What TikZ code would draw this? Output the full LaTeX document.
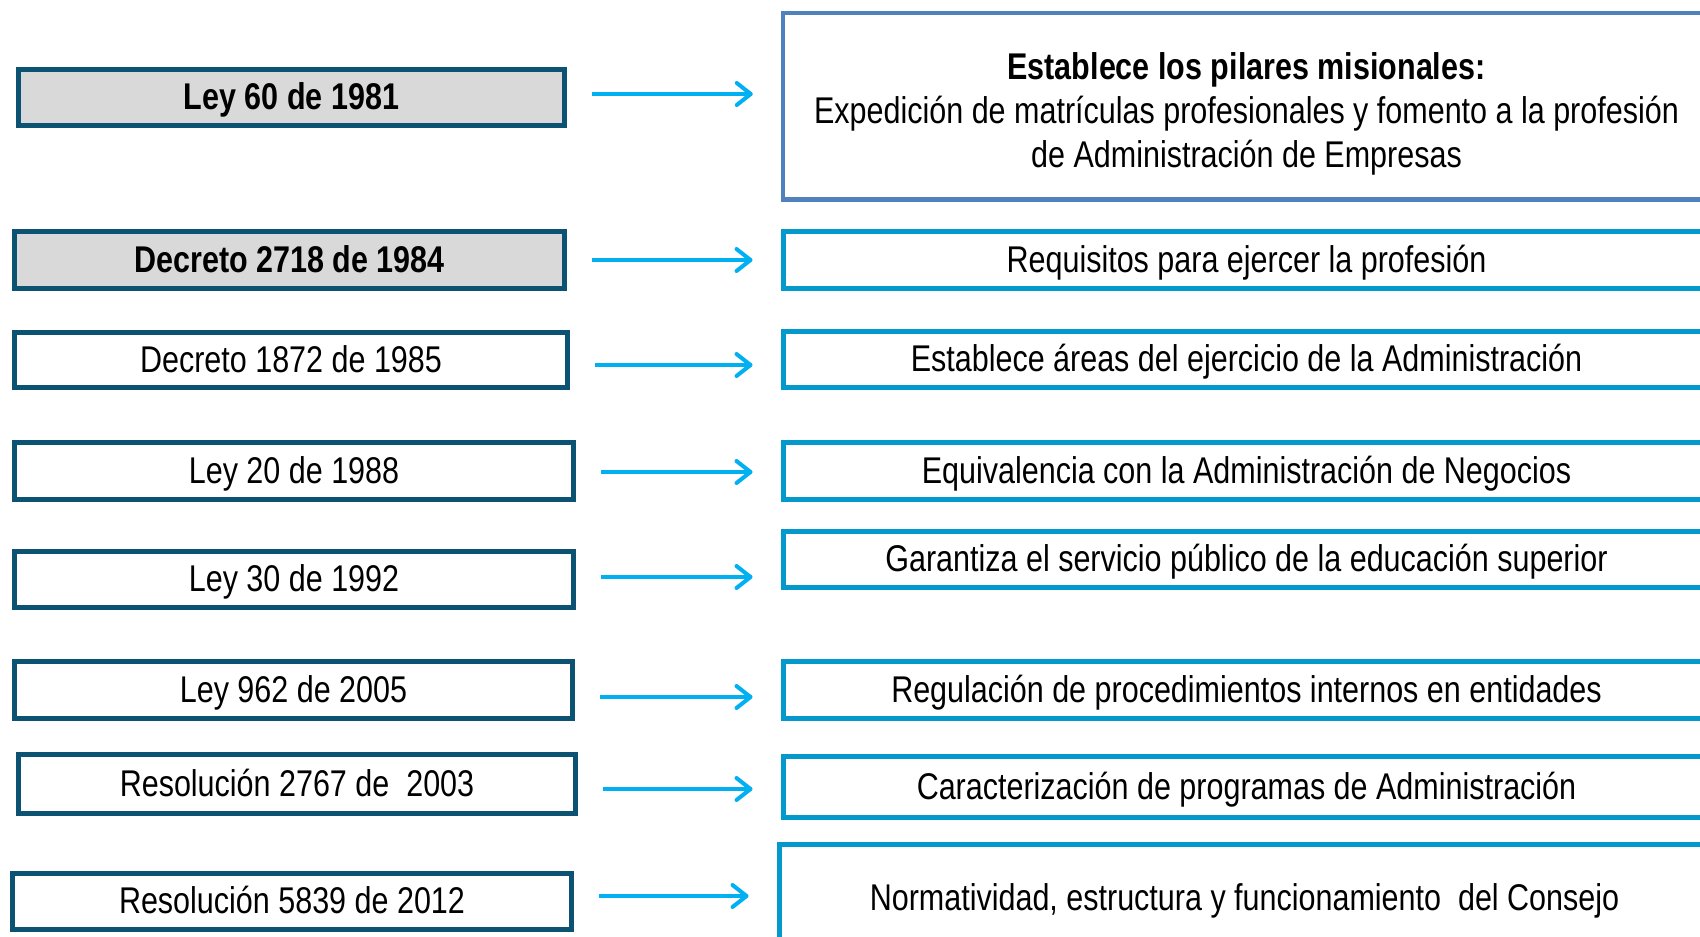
\documentclass[tikz,border=0pt]{standalone}
\usepackage{fontspec}
\setmainfont{Liberation Sans}[FakeStretch=0.82]
\usetikzlibrary{arrows.meta}

\definecolor{leyborde}{RGB}{12,82,114}
\definecolor{leyfondo}{RGB}{217,217,217}
\definecolor{descborde}{RGB}{4,153,204}
\definecolor{pilarborde}{RGB}{79,129,189}
\definecolor{flecha}{RGB}{0,176,240}

\tikzset{
  norma/.style={draw=leyborde, line width=2.5pt, inner sep=0pt,
    text height=16.1pt, text depth=3.9pt,
    font=\fontsize{18.6}{22}\selectfont},
  normaclave/.style={norma, fill=leyfondo,
    font=\fontsize{18.6}{22}\selectfont\bfseries},
  desc/.style={draw=descborde, line width=2.5pt, inner sep=0pt,
    text height=16.1pt, text depth=3.9pt,
    minimum width=463.5pt,
    font=\fontsize{18.6}{22}\selectfont},
  pilar/.style={draw=pilarborde, line width=2.25pt, inner sep=0pt,
    align=center, minimum width=463.5pt,
    font=\fontsize{18.6}{22}\selectfont},
  flechaaz/.style={draw=flecha, line width=2pt,
    -{Straight Barb[length=7pt,width=11pt,round]},
    shorten <=12.5pt, shorten >=14pt}
}

\begin{document}
\begin{tikzpicture}[x=0.5pt,y=-0.5pt]
            \useasboundingbox (0,0) rectangle (1700,936);

            % normas
            \node[normaclave, minimum width=273pt, minimum height=28pt] (ley60) at (291.5,97.5) {Ley 60 de 1981};
            \node[normaclave, minimum width=275pt, minimum height=28.5pt] (dec2718) at (289.5,260) {Decreto 2718 de 1984};
            \node[norma, minimum width=276.5pt, minimum height=27.5pt] (dec1872) at (291,360) {Decreto 1872 de 1985};
            \node[norma, minimum width=279.5pt, minimum height=28.5pt] (ley20) at (294,471) {Ley 20 de 1988};
            \node[norma, minimum width=279.5pt, minimum height=28pt] (ley30) at (294,579.5) {Ley 30 de 1992};
            \node[norma, minimum width=279pt, minimum height=28.5pt] (ley962) at (293.5,690) {Ley 962 de 2005};
            \node[norma, minimum width=278.5pt, minimum height=29.5pt] (res2767) at (297,784) {Resolución 2767 de~~2003};
            \node[norma, minimum width=279.5pt, minimum height=28pt] (res5839) at (292,901.5) {Resolución 5839 de 2012};

            % descripciones
            \node[pilar, minimum height=93.25pt] (pilares) at (1246.5,106.5) {\rule{0pt}{20.8pt}\textbf{Establece los pilares misionales:}\\Expedición de matrículas profesionales y fomento a la profesión\\de Administración de Empresas};
            \node[desc, minimum height=28.5pt] (requisitos) at (1246.5,260) {Requisitos para ejercer la profesión};
            \node[desc, minimum height=28pt] (areas) at (1246.5,359.5) {Establece áreas del ejercicio de la Administración};
            \node[desc, minimum height=28.5pt] (equivalencia) at (1246.5,471) {Equivalencia con la Administración de Negocios};
            \node[desc, minimum height=28pt] (servicio) at (1246.5,559.5) {Garantiza el servicio público de la educación superior};
            \node[desc, minimum height=28.5pt] (regulacion) at (1246.5,690) {Regulación de procedimientos internos en entidades};
            \node[desc, minimum height=30.5pt] (programas) at (1246.5,787) {Caracterización de programas de Administración};
            \node[desc, minimum width=465.5pt, minimum height=53.5pt] (consejo) at (1244.5,898) {Normatividad, estructura y funcionamiento~~del Consejo};

            \draw[flechaaz] (ley60.east |- 0,94) -- (pilares.west |- 0,94);
            \draw[flechaaz] (dec2718.east |- 0,260) -- (requisitos.west |- 0,260);
            \draw[flechaaz] (dec1872.east |- 0,365) -- (areas.west |- 0,365);
            \draw[flechaaz] (ley20.east |- 0,472) -- (equivalencia.west |- 0,472);
            \draw[flechaaz] (ley30.east |- 0,577) -- (servicio.west |- 0,577);
            \draw[flechaaz] (ley962.east |- 0,697) -- (regulacion.west |- 0,697);
            \draw[flechaaz] (res2767.east |- 0,789) -- (programas.west |- 0,789);
            \draw[flechaaz] (res5839.east |- 0,896) -- (consejo.west |- 0,896);
        \end{tikzpicture}
\end{document}
